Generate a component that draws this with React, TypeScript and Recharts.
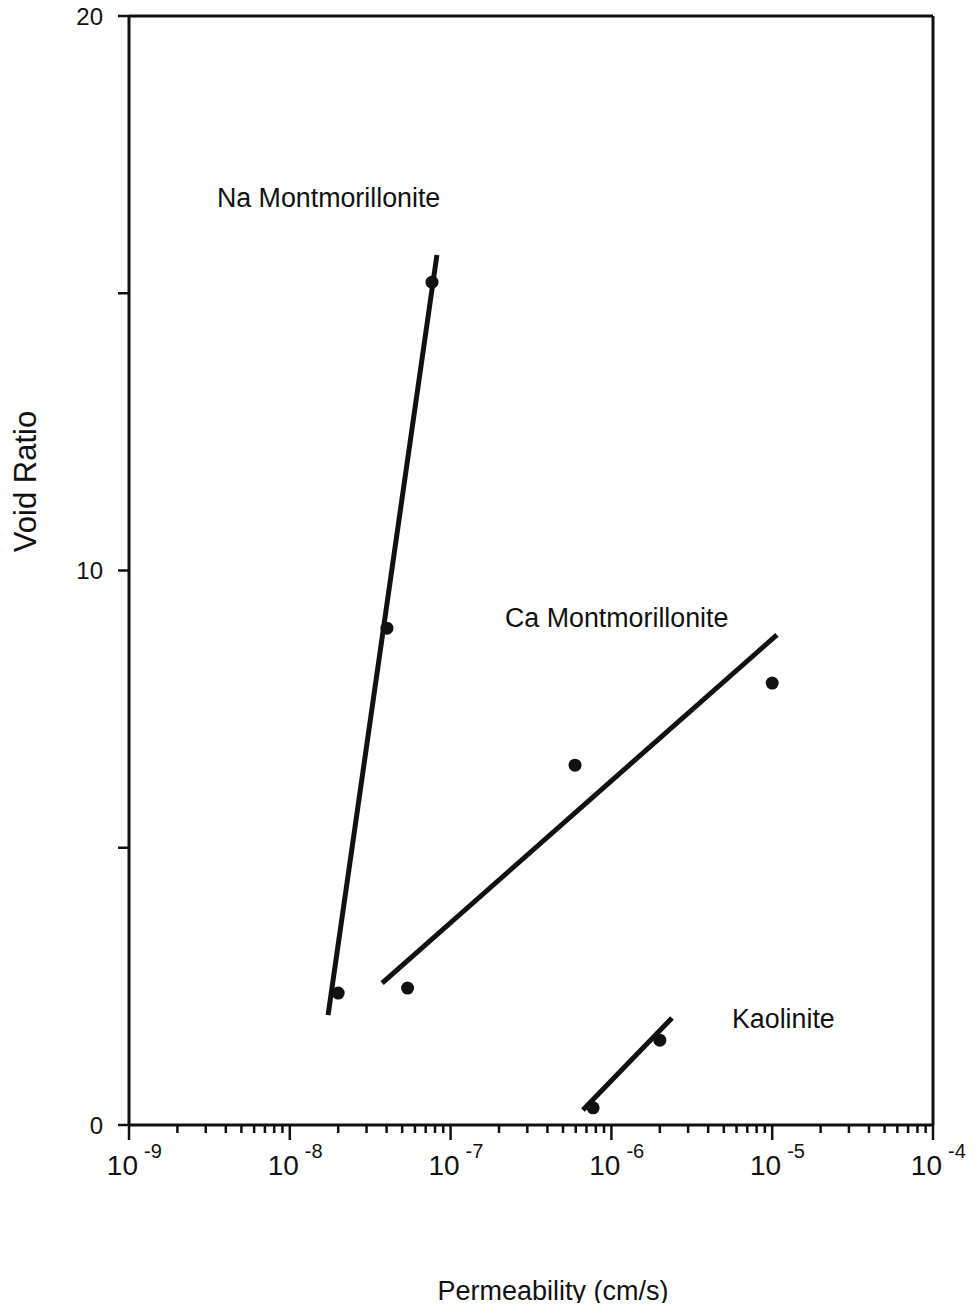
import React from 'react';
import { ScatterChart, Scatter, XAxis, YAxis, ReferenceLine } from 'recharts';

// Permeability (cm/s) vs void ratio for three clay minerals
const naPoints = [
  { k: 2.0e-8, e: 2.38 },
  { k: 4.02e-8, e: 8.96 },
  { k: 7.66e-8, e: 15.2 },
];
const naFit = [
  { k: 1.73e-8, e: 1.98 },
  { k: 8.22e-8, e: 15.69 },
];

const caPoints = [
  { k: 5.4e-8, e: 2.47 },
  { k: 5.94e-7, e: 6.49 },
  { k: 1.0e-5, e: 7.97 },
];
const caFit = [
  { k: 3.75e-8, e: 2.56 },
  { k: 1.07e-5, e: 8.84 },
];

const kaolinitePoints = [
  { k: 7.7e-7, e: 0.31 },
  { k: 2.0e-6, e: 1.53 },
];
const kaoliniteFit = [
  { k: 6.65e-7, e: 0.27 },
  { k: 2.38e-6, e: 1.93 },
];

// Series names, placed at the start of each label's baseline
const seriesLabels = [
  { k: 3.52e-9, e: 16.56, name: 'Na Montmorillonite' },
  { k: 2.18e-7, e: 8.98, name: 'Ca Montmorillonite' },
  { k: 5.62e-6, e: 1.75, name: 'Kaolinite' },
];

// Axis ticks
const K_MIN = 1e-9;
const K_MAX = 1e-4;
const E_MIN = 0;
const E_MAX = 20;
const decadeExponents = [-9, -8, -7, -6, -5, -4];
const minorMultipliers = [2, 3, 4, 5, 6, 7, 8, 9];
const voidTicks = [0, 5, 10, 15, 20];
const voidLabeled = [0, 10, 20];

const permeabilityTicks: number[] = [];
decadeExponents.forEach((p, i) => {
  permeabilityTicks.push(Math.pow(10, p));
  if (i < decadeExponents.length - 1) {
    minorMultipliers.forEach((m) => permeabilityTicks.push(m * Math.pow(10, p)));
  }
});

const INK = '#111111';
const FONT = '"Liberation Sans", Arial, Helvetica, sans-serif';
const W = 979;
const H = 1311;

const PermeabilityTick = (props: any) => {
  const { x, y, payload } = props;
  const v = payload.value as number;
  const exp = Math.round(Math.log10(v));
  const major = Math.abs(v / Math.pow(10, exp) - 1) < 1e-6;
  return (
    <g>
      <line x1={x} x2={x} y1={y} y2={y + (major ? 15 : 8)} stroke={INK} strokeWidth={2.5} />
      {major && (
        <>
          <text x={x + 9} y={y + 50} textAnchor="end" fontSize={28} fill={INK}>
            10
          </text>
          <text x={x + 15} y={y + 33} textAnchor="start" fontSize={20} fill={INK}>
            {`${exp}`}
          </text>
        </>
      )}
    </g>
  );
};

const VoidTick = (props: any) => {
  const { x, y, payload } = props;
  const v = payload.value as number;
  return (
    <g>
      <line x1={x - 11} x2={x} y1={y} y2={y} stroke={INK} strokeWidth={2.5} />
      {voidLabeled.includes(v) && (
        <text x={x - 26} y={y + 8.5} textAnchor="end" fontSize={24} fill={INK}>
          {v}
        </text>
      )}
    </g>
  );
};

const PermeabilityTitle = (props: any) => {
  const vb = props.viewBox || { x: 129, y: 1125, width: 804, height: 186 };
  return (
    <text
      x={vb.x + vb.width / 2 + 22}
      y={vb.y + vb.height - 11}
      textAnchor="middle"
      fontSize={27}
      fill={INK}
    >
      Permeability (cm/s)
    </text>
  );
};

const VoidTitle = (props: any) => {
  const vb = props.viewBox || { x: 0, y: 16, width: 129, height: 1109 };
  const cx = vb.x + 35.5;
  const cy = vb.y + vb.height / 2 - 89;
  return (
    <text
      x={cx}
      y={cy}
      transform={`rotate(-90, ${cx}, ${cy})`}
      textAnchor="middle"
      fontSize={31}
      fill={INK}
    >
      Void Ratio
    </text>
  );
};

const NameShape = (props: any) => {
  const { cx, cy, payload } = props;
  return (
    <text x={cx} y={cy} fontSize={26.8} fill={INK} textAnchor="start">
      {payload.name}
    </text>
  );
};

const NoMarker = () => <g />;

const Dot = (props: any) => {
  const { cx, cy } = props;
  return <circle cx={cx} cy={cy} r={6.5} fill={INK} />;
};

export default function App() {
  return (
    <div style={{ width: W, height: H, margin: -8, fontFamily: FONT, background: '#fff' }}>
      <ScatterChart width={W} height={H} margin={{ top: 16, right: 46, bottom: 0, left: 0 }}>
        <XAxis
          xAxisId="bottom"
          dataKey="k"
          type="number"
          scale="log"
          domain={[K_MIN, K_MAX]}
          allowDataOverflow
          ticks={permeabilityTicks}
          interval={0}
          tick={<PermeabilityTick />}
          tickLine={false}
          tickSize={0}
          tickMargin={0}
          height={186}
          axisLine={{ stroke: INK, strokeWidth: 3 }}
          label={PermeabilityTitle}
        />
        <YAxis
          yAxisId="left"
          dataKey="e"
          type="number"
          domain={[E_MIN, E_MAX]}
          allowDataOverflow
          ticks={voidTicks}
          interval={0}
          tick={<VoidTick />}
          tickLine={false}
          tickSize={0}
          tickMargin={0}
          width={129}
          axisLine={{ stroke: INK, strokeWidth: 3 }}
          label={VoidTitle}
        />

        {/* frame: top and right edges of the plot box */}
        <ReferenceLine xAxisId="bottom" yAxisId="left" y={E_MAX} stroke={INK} strokeWidth={3} />
        <ReferenceLine xAxisId="bottom" yAxisId="left" x={K_MAX} stroke={INK} strokeWidth={3} />

        <Scatter
          xAxisId="bottom"
          yAxisId="left"
          data={naFit}
          line={{ stroke: INK, strokeWidth: 5 }}
          shape={<NoMarker />}
          isAnimationActive={false}
        />
        <Scatter
          xAxisId="bottom"
          yAxisId="left"
          data={caFit}
          line={{ stroke: INK, strokeWidth: 5 }}
          shape={<NoMarker />}
          isAnimationActive={false}
        />
        <Scatter
          xAxisId="bottom"
          yAxisId="left"
          data={kaoliniteFit}
          line={{ stroke: INK, strokeWidth: 5 }}
          shape={<NoMarker />}
          isAnimationActive={false}
        />

        <Scatter xAxisId="bottom" yAxisId="left" data={naPoints} shape={<Dot />} isAnimationActive={false} />
        <Scatter xAxisId="bottom" yAxisId="left" data={caPoints} shape={<Dot />} isAnimationActive={false} />
        <Scatter
          xAxisId="bottom"
          yAxisId="left"
          data={kaolinitePoints}
          shape={<Dot />}
          isAnimationActive={false}
        />

        <Scatter
          xAxisId="bottom"
          yAxisId="left"
          data={seriesLabels}
          shape={<NameShape />}
          isAnimationActive={false}
        />
      </ScatterChart>
    </div>
  );
}
